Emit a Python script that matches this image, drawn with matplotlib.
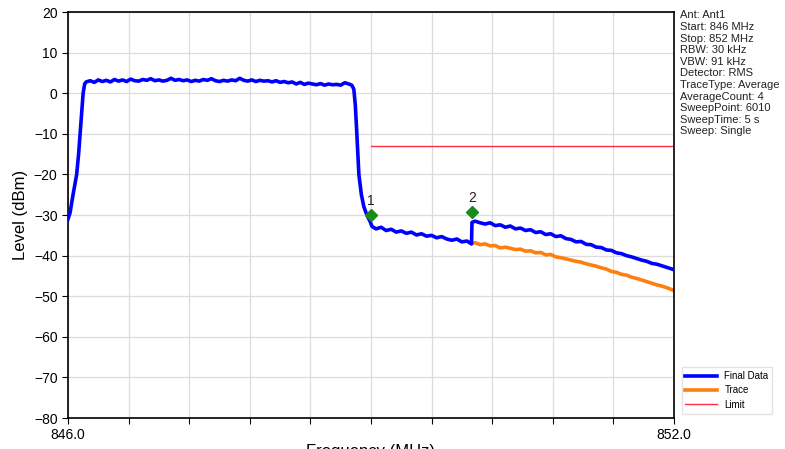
import matplotlib
matplotlib.use("Agg")
import matplotlib.pyplot as plt
import numpy as np

# ---- data ----
final_freq = [
    846.00, 846.02, 846.05, 846.086, 846.105, 846.12, 846.135, 846.15, 846.165, 846.18,
    846.22, 846.26, 846.30, 846.34, 846.38, 846.42, 846.46, 846.50, 846.54, 846.58,
    846.62, 846.66, 846.70, 846.74, 846.78, 846.82, 846.86, 846.90, 846.94, 846.98,
    847.02, 847.06, 847.10, 847.14, 847.18, 847.22, 847.26, 847.30, 847.34, 847.38,
    847.42, 847.46, 847.50, 847.54, 847.58, 847.62, 847.66, 847.70, 847.74, 847.78,
    847.82, 847.86, 847.90, 847.94, 847.98, 848.02, 848.06, 848.10, 848.14, 848.18,
    848.22, 848.26, 848.30, 848.34, 848.38, 848.42, 848.46, 848.50, 848.54, 848.58,
    848.62, 848.66, 848.70, 848.74, 848.78, 848.81, 848.83, 848.845, 848.86, 848.88,
    848.905, 848.93, 848.96, 848.99, 849.01, 849.05, 849.10, 849.15, 849.20, 849.25,
    849.30, 849.35, 849.40, 849.45, 849.50, 849.55, 849.60, 849.65, 849.70, 849.75,
    849.80, 849.85, 849.90, 849.95, 849.995, 850.00, 850.03, 850.08, 850.13, 850.18,
    850.23, 850.28, 850.33, 850.38, 850.43, 850.48, 850.53, 850.58, 850.63, 850.68,
    850.73, 850.78, 850.83, 850.88, 850.93, 850.98, 851.03, 851.08, 851.13, 851.18,
    851.23, 851.28, 851.33, 851.38, 851.43, 851.48, 851.53, 851.58, 851.63, 851.68,
    851.73, 851.78, 851.83, 851.88, 851.93, 851.98, 852.00,
]
final_level = [
    -31.0, -29.5, -25.0, -20.0, -15.0, -10.0, -5.0, 0.0, 2.3, 2.8,
    3.1, 2.7, 3.3, 2.9, 3.2, 2.8, 3.4, 3.0, 3.3, 2.9,
    3.5, 3.1, 3.0, 3.4, 3.2, 3.6, 3.1, 3.3, 3.0, 3.2,
    3.7, 3.2, 3.4, 3.1, 3.3, 2.9, 3.2, 3.0, 3.4, 3.2,
    3.6, 3.1, 2.9, 3.2, 3.0, 3.3, 3.1, 3.7, 3.2, 3.0,
    3.3, 2.9, 3.2, 3.0, 3.1, 2.8, 3.1, 2.7, 2.9, 2.6,
    2.8, 2.3, 2.7, 2.2, 2.5, 2.3, 2.1, 2.4, 2.0, 2.3,
    2.1, 2.2, 2.0, 2.6, 2.3, 2.0, 1.0, -3.0, -10.0, -20.0,
    -25.0, -28.0, -30.0, -31.5, -32.8, -33.4, -33.0, -33.8, -33.5, -34.2,
    -33.9, -34.5, -34.2, -34.9, -34.6, -35.2, -35.0, -35.6, -35.3, -35.9,
    -36.2, -35.9, -36.6, -36.4, -37.1, -31.8, -31.5, -31.9, -32.2, -31.9,
    -32.6, -32.4, -33.0, -32.7, -33.4, -33.2, -33.8, -33.6, -34.3, -34.1,
    -34.8, -34.6, -35.3, -35.1, -35.8, -36.0, -36.6, -36.5, -37.2, -37.3,
    -37.9, -38.0, -38.6, -38.7, -39.3, -39.5, -40.0, -40.3, -40.7, -41.1,
    -41.4, -41.9, -42.1, -42.5, -42.9, -43.3, -43.5,
]

trace_freq = [
    850.00, 850.03, 850.08, 850.13, 850.18, 850.23, 850.28, 850.33, 850.38, 850.43,
    850.48, 850.53, 850.58, 850.63, 850.68, 850.73, 850.78, 850.83, 850.88, 850.93,
    850.98, 851.03, 851.08, 851.13, 851.18, 851.23, 851.28, 851.33, 851.38, 851.43,
    851.48, 851.53, 851.58, 851.63, 851.68, 851.73, 851.78, 851.83, 851.88, 851.93,
    851.98, 852.00,
]
trace_level = [
    -37.0, -36.8, -37.3, -37.1, -37.6, -37.5, -38.1, -37.9, -38.2, -38.5,
    -38.4, -38.9, -38.8, -39.3, -39.2, -39.8, -39.7, -40.3, -40.5, -40.8,
    -41.1, -41.4, -41.6, -42.0, -42.3, -42.6, -43.0, -43.3, -43.9, -44.1,
    -44.6, -44.8, -45.3, -45.6, -46.0, -46.4, -46.8, -47.2, -47.5, -47.9,
    -48.4, -48.6,
]

limit_freq = [849.0, 852.0]
limit_level = [-13.0, -13.0]

marker_freq = [849.0, 850.0]
marker_level = [-30.0, -29.3]
marker_labels = ["1", "2"]

info_lines = [
    "Ant: Ant1", "Start: 846 MHz", "Stop: 852 MHz", "RBW: 30 kHz", "VBW: 91 kHz",
    "Detector: RMS", "TraceType: Average", "AverageCount: 4", "SweepPoint: 6010",
    "SweepTime: 5 s", "Sweep: Single",
]

x_ticks = [846.0 + 0.6 * i for i in range(11)]
x_ticklabels = ["846.0"] + [""] * 9 + ["852.0"]
y_ticks = list(range(-80, 21, 10))

# ---- plot ----
plt.rcParams['font.family'] = ['Liberation Sans', 'DejaVu Sans']
fig = plt.figure(figsize=(7.85, 4.49), dpi=100)
ax = fig.add_axes([0.0866, 0.069, 0.772, 0.904])

ax.plot(trace_freq, trace_level, color='#ff7f0e', lw=2.6, label='Trace', zorder=2)
ax.plot(final_freq, final_level, color='#0000ff', lw=2.6, label='Final Data', zorder=3)
ax.plot(limit_freq, limit_level, color='#ff3040', lw=1.0, label='Limit', zorder=2)

ax.plot(marker_freq, marker_level, linestyle='none', marker='D', color='#1a8a1a',
        markersize=6, zorder=4)
for f, l, t in zip(marker_freq, marker_level, marker_labels):
    ax.text(f, l + 1.8, t, ha='center', va='bottom', fontsize=10, color='#222222', zorder=5)

ax.set_xlim(846.0, 852.0)
ax.set_ylim(-80, 20)
ax.set_xticks(x_ticks)
ax.set_xticklabels(x_ticklabels)
ax.set_yticks(y_ticks)
ax.tick_params(labelsize=10, length=4, color='black')
ax.grid(True, color='#dcdcdc', lw=0.9)
for s in ax.spines.values():
    s.set_color('black')
    s.set_linewidth(1.2)

ax.set_ylabel('Level (dBm)', fontsize=12)
ax.set_xlabel('Frequency (MHz)', fontsize=12, labelpad=1)

fig.text(0.866, 0.977, "\n".join(info_lines), ha='left', va='top', fontsize=8,
         linespacing=1.2, color='#222222')

handles, labels = ax.get_legend_handles_labels()
order = [1, 0, 2]
fig.legend([handles[i] for i in order], [labels[i] for i in order],
           loc='lower left', bbox_to_anchor=(0.862, 0.068), fontsize=7,
           frameon=True, fancybox=False, edgecolor='#dddddd', handlelength=3.2,
           labelspacing=0.45)

fig.savefig('out.png', dpi=100)
